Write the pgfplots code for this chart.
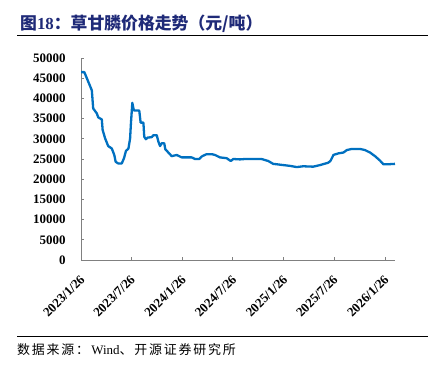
\documentclass[border=0pt]{standalone}
\usepackage{pgfplots}
\pgfplotsset{compat=1.18}
\usepackage{fontspec}
\setmainfont{Liberation Serif}
\newfontfamily\cjk{Noto Sans CJK SC}
\definecolor{titleblue}{HTML}{1F2A78}
\definecolor{lineblue}{HTML}{0070C0}
\definecolor{axgray}{HTML}{808080}
\begin{document}
\begin{tikzpicture}
\useasboundingbox (0,0) rectangle (436bp,367bp);
\node[anchor=west, text=titleblue, inner sep=0pt, font=\fontsize{16.9}{18}\selectfont] at (20bp,343bp)
  {{\cjk\bfseries 图}{\bfseries 18}{\cjk\bfseries ：草甘膦价格走势（元/吨）}};
\draw[line width=0.9bp] (17bp,332bp) -- (428bp,332bp);
\draw[line width=0.9bp] (17bp,31bp) -- (428bp,31bp);
\node[anchor=west, inner sep=0pt, font=\fontsize{13}{15}\selectfont] at (17bp,17bp)
  {{\cjk\addfontfeature{LetterSpace=14}数据来源：}\,Wind{\cjk\addfontfeature{LetterSpace=14}、开源证券研究所}};
\begin{axis}[
  at={(81bp,107bp)}, anchor=south west,
  scale only axis, width=314bp, height=202bp,
  xmin=0, xmax=1132, ymin=0, ymax=50000,
  axis x line*=bottom, axis y line*=left,
  axis line style={axgray, line width=0.8bp},
  tick style={axgray, line width=0.8bp},
  major tick length=3bp,
  xtick={0,181,365,547,731,912,1096},
  xticklabels={2023/1/26,2023/7/26,2024/1/26,2024/7/26,2025/1/26,2025/7/26,2026/1/26},
  x tick label style={font=\bfseries\fontsize{13}{13}\selectfont, anchor=east, xshift=4bp, yshift=-15bp, rotate=45},
  ytick={0,5000,...,50000},
  scaled y ticks=false,
  /pgf/number format/assume math mode=true,
  /pgf/number format/1000 sep={},
  y tick label style={font=\bfseries\fontsize{13}{13}\selectfont, xshift=-12bp},
  clip=false,
]
\addplot[lineblue, line width=2.3bp, line join=round] coordinates {
(0,46500) (12,46500) (24,44500) (39,42000) (44,37500) (57,36300) (62,35300) (75,34800)
(78,32200) (87,30100) (98,28200) (111,27600) (120,26000) (125,24300) (134,23900) (147,23900)
(155,25200) (162,27000) (171,27600) (177,30100) (180,33800) (185,38900) (189,37500) (191,37000)
(210,37000) (215,34000) (225,34000) (228,30500) (234,29900) (240,30300) (255,30400) (261,30900)
(273,30900) (279,29300) (285,28200) (291,28900) (300,28900) (304,27400) (315,26600) (327,25700)
(345,26000) (363,25400) (399,25400) (411,25000) (426,25000) (437,25700) (453,26200) (471,26200)
(483,26000) (501,25400) (525,25200) (540,24500) (549,25000) (573,24900) (591,25000) (651,25000)
(675,24500) (693,23800) (729,23500) (753,23300) (778,23000) (801,23200) (837,23100) (862,23500)
(892,24100) (900,24600) (910,26000) (928,26400) (946,26600) (958,27200) (976,27500) (1006,27500)
(1024,27200) (1042,26600) (1060,25700) (1078,24600) (1090,23700) (1108,23700) (1132,23800)
};
\end{axis}
\end{tikzpicture}
\end{document}
